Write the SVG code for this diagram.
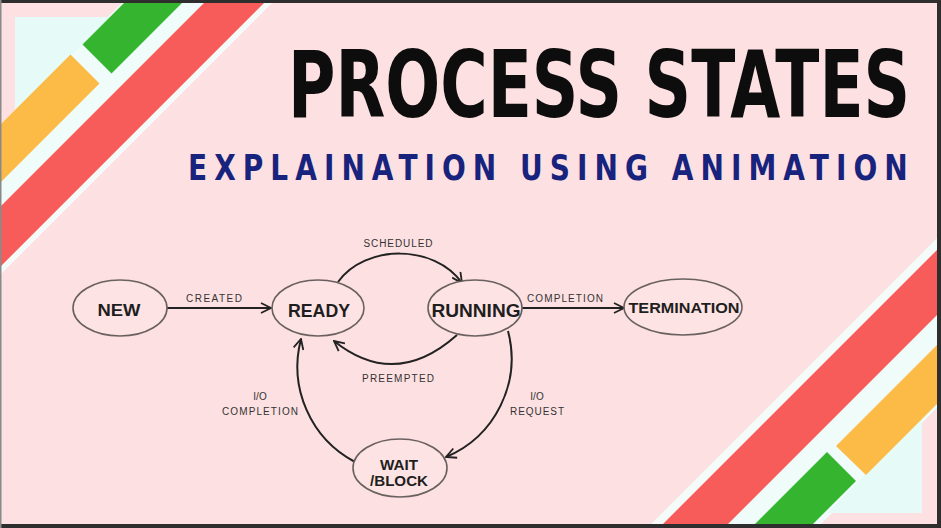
<svg xmlns="http://www.w3.org/2000/svg" width="941" height="528" viewBox="0 0 941 528">
<defs>
<marker id="arr" viewBox="0 0 12 12" refX="11" refY="6" markerWidth="12" markerHeight="12" markerUnits="userSpaceOnUse" orient="auto">
<path d="M1,1 L11,6 L1,11" fill="none" stroke="#222" stroke-width="1.8"/>
</marker>
<style>
.node{fill:#fde3e3;stroke:#6a6060;stroke-width:1.6}
.nl{font-family:"Liberation Sans",Arial,sans-serif;font-weight:bold;fill:#1e1e1e;text-anchor:middle}
.el{font-family:"Liberation Sans",Arial,sans-serif;font-size:10px;fill:#333;text-anchor:middle}
.edge{fill:none;stroke:#222;stroke-width:2;marker-end:url(#arr)}
</style>
</defs>
<rect x="0" y="0" width="941" height="528" fill="#fde0e1"/>
<!-- top-left decoration -->
<g id="deco-tl">
<polygon points="125,0 207,0 0,207 0,125" fill="#effcfa"/>
<polygon points="15,17 110,17 15,112" fill="#e6fbf8"/>
<polygon points="267,0 275,0 0,275 0,267" fill="#f4fbf9"/>
<polygon points="207,0 267,0 0,267 0,207" fill="#f85c5a"/>
<polygon points="70.5,54.5 99.5,83.5 0,183 0,125" fill="#fbbb46"/>
<polygon points="82.5,44.5 111.5,73.5 185,0 127,0" fill="#35b52f"/>
</g>
<!-- bottom-right decoration -->
<g id="deco-br">
<polygon points="941,234 941,246 659,528 647,528" fill="#f4fbf9"/>
<polygon points="941,311 941,404 817,528 724,528" fill="#effcfa"/>
<polygon points="922,513 922,418 827,513" fill="#e6fbf8"/>
<polygon points="941,246 941,311 724,528 659,528" fill="#f85c5a"/>
<polygon points="836,446 941,341 941,400 866,475" fill="#fbbb46"/>
<polygon points="827,452 856,481 809,528 751,528" fill="#35b52f"/>
</g>
<!-- frame -->
<rect x="0" y="0" width="941" height="3" fill="#2e2e2e"/>
<rect x="937" y="0" width="4" height="528" fill="#2e2e2e"/>
<rect x="0" y="524" width="941" height="4" fill="#2e2e2e"/>
<rect x="0" y="0" width="1.5" height="528" fill="#8a8a8a"/>
<!-- titles -->
<text transform="translate(288,117) scale(0.703,1)" x="0" y="0" font-family="'DejaVu Sans',sans-serif" font-weight="bold" font-size="92" fill="#0d0d0d">PROCESS STATES</text>
<text transform="translate(188,180) scale(0.8,1)" x="0" y="0" font-family="'DejaVu Sans',sans-serif" font-weight="bold" font-size="35" letter-spacing="8.8" fill="#18237e">EXPLAINATION USING ANIMATION</text>
<!-- connectors -->
<g id="connectors">
<line class="edge" x1="167" y1="308" x2="271" y2="308"/>
<path class="edge" d="M338,282 C365,244 435,244 462,283"/>
<path class="edge" d="M457,335 Q395,390 334,341"/>
<line class="edge" x1="522" y1="308" x2="624" y2="308"/>
<path class="edge" d="M508,331 A107,107 0 0 1 446,457"/>
<path class="edge" d="M355,462 A108,108 0 0 1 301,339"/>
<text class="el" x="214" y="302" textLength="56">CREATED</text>
<text class="el" x="398" y="247" textLength="69">SCHEDULED</text>
<text class="el" x="565" y="302" textLength="76">COMPLETION</text>
<text class="el" x="398" y="382" textLength="72">PREEMPTED</text>
<text class="el" x="537" y="400">I/O</text>
<text class="el" x="537" y="415" textLength="54">REQUEST</text>
<text class="el" x="260" y="400">I/O</text>
<text class="el" x="260" y="415" textLength="76">COMPLETION</text>
</g>
<!-- nodes -->
<g id="new">
<ellipse class="node" cx="120" cy="308" rx="47" ry="28"/>
<text class="nl" x="119" y="316" font-size="17" textLength="43" lengthAdjust="spacingAndGlyphs">NEW</text>
</g>
<g id="ready">
<ellipse class="node" cx="318" cy="308" rx="46" ry="28"/>
<text class="nl" x="319" y="317" font-size="18" textLength="62" lengthAdjust="spacingAndGlyphs">READY</text>
</g>
<g id="running">
<ellipse class="node" cx="475" cy="308" rx="47" ry="28"/>
<text class="nl" x="476" y="317" font-size="18" textLength="89" lengthAdjust="spacingAndGlyphs">RUNNING</text>
</g>
<g id="termination">
<ellipse class="node" cx="683" cy="307" rx="59" ry="28"/>
<text class="nl" x="684" y="313" font-size="14" textLength="111" lengthAdjust="spacingAndGlyphs">TERMINATION</text>
</g>
<g id="wait">
<ellipse class="node" cx="400" cy="468" rx="47" ry="29"/>
<text class="nl" x="399" y="470" font-size="15" textLength="38" lengthAdjust="spacingAndGlyphs">WAIT</text>
<text class="nl" x="399" y="486" font-size="15" textLength="58" lengthAdjust="spacingAndGlyphs">/BLOCK</text>
</g>
</svg>
